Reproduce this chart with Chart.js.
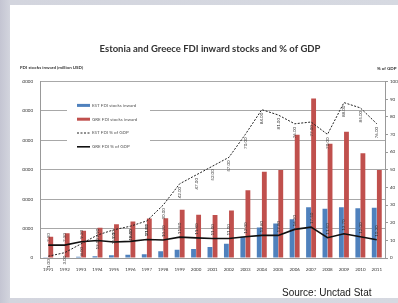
<!DOCTYPE html>
<html>
<head>
<meta charset="utf-8">
<script src="https://cdn.jsdelivr.net/npm/chart.js@4.4.1/dist/chart.umd.min.js"></script>
<style>
    html, body { margin: 0; padding: 0; }
    body {
        width: 398px; height: 303px; position: relative; overflow: hidden;
        background: linear-gradient(90deg, #c4c5d2 0px, #d3d5de 10px, #d6d9e1 100%);
    }
    #slide { position: absolute; left: 10px; top: 5px; width: 388px; height: 293px; background: #fff; }
    #chart { position: absolute; left: 0; top: 0; }
    #source {
        position: absolute; left: 282px; top: 287px;
        font: 10px "Liberation Sans", Arial, sans-serif; color: #1a1a1a; white-space: nowrap;
    }
</style>
</head>
<body>
<div id="slide"></div>
<canvas id="chart" width="398" height="303"></canvas>
<div id="source">Source: Unctad Stat</div>
<script>
// Estonia / Greece FDI data
const years = ['1991', '1992', '1993', '1994', '1995', '1996', '1997', '1998', '1999', '2000',
    '2001', '2002', '2003', '2004', '2005', '2006', '2007', '2008', '2009', '2010', '2011'];

const estStocks = [50, 150, 400, 600, 900, 1100, 1300, 2300, 2800, 3100,
    3700, 4800, 7200, 10400, 11700, 13200, 17200, 16700, 17200, 16900, 17100];
const greStocks = [7200, 8400, 9300, 10300, 11500, 12400, 13400, 13500, 16400, 14700,
    14600, 16100, 23000, 29300, 29900, 41900, 54200, 38800, 42900, 35600, 29900];

const estPct = [1.0, 3.0, 8.0, 13.0, 16.0, 18.0, 21.0, 30.0, 42.0, 47.0,
    52.0, 57.0, 70.0, 84.0, 81.0, 76.0, 77.0, 70.0, 88.0, 85.0, 76.0];
const grePct = [7.3, 7.3, 9.2, 9.9, 9.1, 9.4, 10.5, 10.2, 11.8, 11.4,
    11.0, 11.0, 12.0, 12.8, 12.8, 16.2, 17.5, 11.5, 13.7, 12.0, 10.3];

const leftTicks = [0, 10000, 20000, 30000, 40000, 50000, 60000];
const rightTicks = [0, 10, 20, 30, 40, 50, 60, 70, 80, 90, 100];

const tinyFont = { family: 'Lato', size: 4.5 };

// rotated value labels on the two % lines
const pointLabels = {
    id: 'pointLabels',
    afterDatasetsDraw(chart) {
        const c = chart.ctx;
        chart.data.datasets.forEach((ds, i) => {
            if (ds.type !== 'line') return;
            const meta = chart.getDatasetMeta(i);
            meta.data.forEach((pt, j) => {
                const v = ds.data[j];
                if (v == null) return;
                c.save();
                c.translate(pt.x, pt.y + (ds.labelBelow ? 3 : -3));
                c.rotate(-Math.PI / 2);
                c.font = '4.5px Lato';
                c.fillStyle = '#333';
                c.textAlign = ds.labelBelow ? 'right' : 'left';
                c.textBaseline = 'middle';
                c.fillText(v.toFixed(2), 0, 0);
                c.restore();
            });
        });
    }
};

// legend box sitting inside the plot, plus the two axis captions
const slideLegend = {
    id: 'slideLegend',
    afterDraw(chart) {
        const c = chart.ctx;
        const a = chart.chartArea;
        c.save();
        c.fillStyle = '#fff';
        c.fillRect(a.left + 27, a.top + 18, 83, 55);

        chart.data.datasets.forEach((ds, i) => {
            const y = a.top + 24 + i * 13.8;
            const x = a.left + 37;
            c.beginPath();
            if (ds.type === 'bar') {
                c.fillStyle = ds.backgroundColor;
                c.fillRect(x, y - 1.5, 13, 3);
            } else {
                c.strokeStyle = ds.borderColor;
                c.lineWidth = ds.borderWidth;
                c.setLineDash(ds.borderDash || []);
                c.moveTo(x, y);
                c.lineTo(x + 13, y);
                c.stroke();
                c.setLineDash([]);
            }
            c.fillStyle = '#555';
            c.font = '4.5px Lato';
            c.textAlign = 'left';
            c.textBaseline = 'middle';
            c.fillText(ds.label, x + 15, y);
        });

        c.fillStyle = '#333';
        c.font = 'bold 4.5px Lato';
        c.textBaseline = 'middle';
        c.textAlign = 'left';
        c.fillText('FDI stocks inward (million USD)', a.left - 20, a.top - 14);
        c.fillText('% of GDP', a.right - 8, a.top - 13);
        c.restore();
    }
};

new Chart(document.getElementById('chart'), {
    data: {
        labels: years,
        datasets: [
            { type: 'bar', label: 'EST FDI stocks inward', data: estStocks, yAxisID: 'y',
              backgroundColor: '#4f81bd', categoryPercentage: 0.62, barPercentage: 0.95, order: 2 },
            { type: 'bar', label: 'GRE FDI stocks inward', data: greStocks, yAxisID: 'y',
              backgroundColor: '#c0504d', categoryPercentage: 0.62, barPercentage: 0.95, order: 3 },
            { type: 'line', label: 'EST FDI % of GDP', data: estPct, yAxisID: 'y1',
              borderColor: '#222', borderWidth: 1, borderDash: [2, 1.5], pointRadius: 0,
              labelBelow: true, order: 0 },
            { type: 'line', label: 'GRE FDI % of GDP', data: grePct, yAxisID: 'y1',
              borderColor: '#111', borderWidth: 1.6, pointRadius: 0, order: 1 }
        ]
    },
    options: {
        responsive: false,
        animation: false,
        devicePixelRatio: 1,
        layout: { padding: { left: 22, right: 0, top: 0, bottom: 31 } },
        plugins: {
            legend: { display: false },
            tooltip: { enabled: false },
            title: {
                display: true,
                text: 'Estonia and Greece FDI inward stocks and % of GDP',
                color: '#333',
                font: { family: 'Lato', size: 9.5, weight: 'bold' },
                padding: { top: 43, bottom: 27 }
            }
        },
        scales: {
            x: {
                grid: { display: false },
                border: { color: '#999' },
                ticks: { font: tinyFont, color: '#333', maxRotation: 0, autoSkip: false, padding: 1 },
                afterFit(s) { s.height = 14; }
            },
            y: {
                position: 'left',
                min: 0, max: 60000,
                afterBuildTicks(s) { s.ticks = leftTicks.map(v => ({ value: v })); },
                ticks: { font: tinyFont, color: '#333', padding: 7, callback: v => String(v) },
                grid: { color: '#a8a8a8', drawTicks: false },
                border: { color: '#999' },
                afterFit(s) { s.width = 18; }
            },
            y1: {
                position: 'right',
                min: 0, max: 100,
                afterBuildTicks(s) { s.ticks = rightTicks.map(v => ({ value: v })); },
                ticks: { font: tinyFont, color: '#333', padding: 2, callback: v => String(v) },
                grid: { drawOnChartArea: false, tickLength: 3, color: '#999' },
                border: { color: '#999' },
                afterFit(s) { s.width = 13; }
            }
        }
    },
    plugins: [pointLabels, slideLegend]
});
</script>
</body>
</html>
